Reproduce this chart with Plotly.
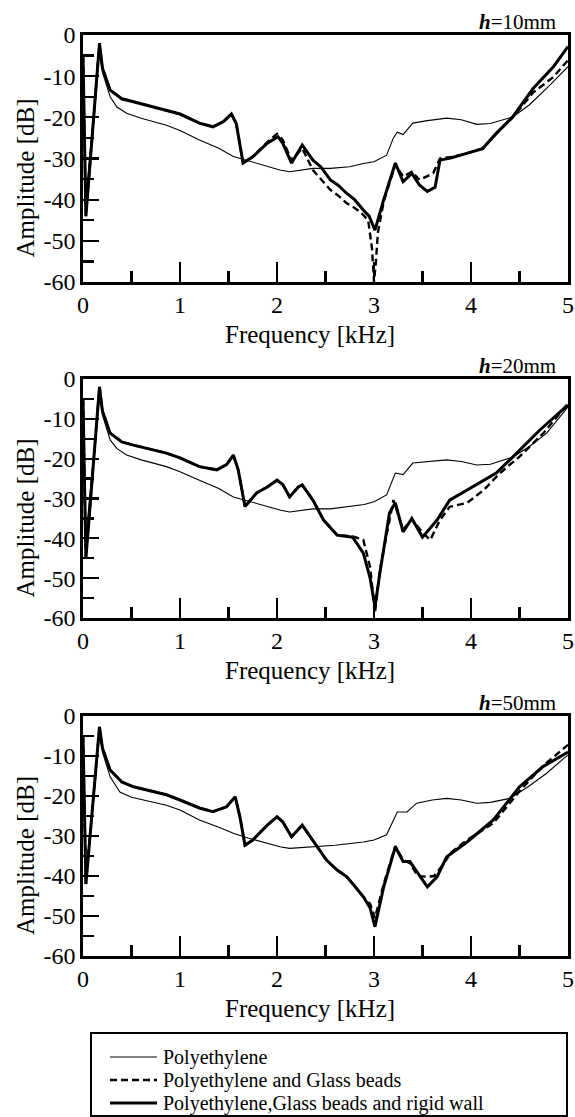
import plotly.graph_objects as go

# ---------------- data ----------------
panel_labels = ["10mm", "20mm", "50mm"]
series_names = ["Polyethylene", "Polyethylene and Glass beads", "Polyethylene,Glass beads and rigid wall"]

# h = 10 mm
f_pe_10 = [0, 0.03, 0.17, 0.2, 0.28, 0.35, 0.45, 0.6, 0.86, 1.0, 1.2, 1.4, 1.55, 1.7, 1.9, 2.03, 2.13, 2.37, 2.55, 2.75, 2.89, 3.0, 3.13, 3.2, 3.24, 3.3, 3.4, 3.55, 3.75, 3.9, 4.06, 4.2, 4.43, 4.6, 4.8, 5.0]
a_pe_10 = [-5, -40, -3, -9, -15, -17.5, -19, -20.2, -21.9, -23.2, -25.5, -27.5, -29.5, -30.5, -32, -32.8, -33.2, -32.4, -32.4, -32, -31.2, -30.8, -29.2, -25, -23.6, -24.2, -21.4, -20.8, -20.2, -20.6, -21.7, -21.5, -19.9, -17, -12.5, -7.7]
f_gb_10 = [0, 0.03, 0.17, 0.2, 0.28, 0.4, 0.52, 0.7, 0.86, 1.0, 1.2, 1.34, 1.45, 1.53, 1.58, 1.65, 1.75, 1.9, 2.0, 2.06, 2.15, 2.26, 2.37, 2.45, 2.55, 2.63, 2.72, 2.8, 2.86, 2.94, 2.98, 3.0, 3.02, 3.04, 3.1, 3.22, 3.3, 3.39, 3.47, 3.61, 3.68, 3.8, 3.92, 4.12, 4.26, 4.43, 4.64, 4.85, 5.0]
a_gb_10 = [-5, -44, -2, -8, -13.4, -15.5, -16.2, -17.3, -18.2, -19.2, -21.4, -22.3, -21, -19.2, -21.5, -31.1, -29.6, -26, -24, -25.5, -30.5, -27.5, -32.8, -35, -37.6, -39, -40.9, -42, -43, -45, -52, -60, -55, -48, -40.5, -31.5, -34.4, -33.2, -35.2, -33.6, -30, -29.6, -29, -27.6, -24, -20, -14, -10.2, -6.1]
f_rw_10 = [0, 0.03, 0.17, 0.2, 0.28, 0.4, 0.52, 0.7, 0.86, 1.0, 1.2, 1.34, 1.45, 1.53, 1.58, 1.65, 1.75, 1.9, 2.01, 2.06, 2.15, 2.26, 2.37, 2.45, 2.55, 2.63, 2.72, 2.8, 2.89, 2.95, 3.01, 3.1, 3.22, 3.3, 3.39, 3.47, 3.55, 3.63, 3.68, 3.8, 3.92, 4.12, 4.26, 4.43, 4.64, 4.85, 5.0]
a_rw_10 = [-5, -44, -2, -8, -13.4, -15.5, -16.2, -17.3, -18.2, -19.2, -21.4, -22.3, -21, -19.2, -21.5, -31.1, -29.6, -26.3, -24.7, -26.3, -31.1, -26.7, -30.4, -32, -35.2, -36.5, -38.5, -40, -42.5, -44, -47.4, -40, -31.1, -35.6, -33.6, -36.5, -38, -37, -30.4, -29.8, -29, -27.6, -23.9, -19.9, -13, -7.7, -2.8]

# h = 20 mm
f_pe_20 = [0, 0.03, 0.17, 0.2, 0.28, 0.35, 0.45, 0.6, 0.86, 1.0, 1.2, 1.4, 1.55, 1.7, 1.9, 2.03, 2.13, 2.37, 2.55, 2.72, 2.9, 3.0, 3.13, 3.22, 3.3, 3.4, 3.55, 3.75, 3.9, 4.06, 4.2, 4.43, 4.6, 4.78, 5.0]
a_pe_20 = [-5, -40, -3, -9, -15.3, -17.5, -19.1, -20.3, -22, -23.3, -25.4, -27.5, -29.6, -30.6, -32.1, -32.9, -33.4, -32.6, -32.6, -32.1, -31.5, -30.8, -29.1, -23.6, -24, -21.1, -20.8, -20.3, -20.7, -21.6, -21.4, -19.6, -17, -13.6, -7]
f_gb_20 = [0, 0.03, 0.17, 0.2, 0.28, 0.4, 0.52, 0.7, 0.86, 1.0, 1.2, 1.38, 1.48, 1.55, 1.6, 1.67, 1.79, 1.9, 2.0, 2.06, 2.13, 2.22, 2.26, 2.37, 2.48, 2.62, 2.78, 2.89, 2.96, 3.01, 3.06, 3.2, 3.3, 3.39, 3.5, 3.58, 3.68, 3.78, 3.96, 4.13, 4.3, 4.5, 4.75, 5.0]
a_gb_20 = [-5, -45, -2, -8, -13.6, -15.8, -16.6, -17.7, -18.6, -19.8, -22, -22.8, -21.5, -19.1, -22.8, -32, -28.6, -27.1, -25.4, -26.5, -29.6, -27.1, -26.6, -30.4, -35.4, -39.2, -39.5, -40.4, -47.2, -58.8, -48, -30.4, -37.8, -35.2, -38.5, -40.4, -35.4, -32.1, -31.1, -27.9, -23.6, -19.5, -13.5, -6.1]
f_rw_20 = [0, 0.03, 0.17, 0.2, 0.28, 0.4, 0.52, 0.7, 0.86, 1.0, 1.2, 1.38, 1.48, 1.55, 1.6, 1.67, 1.79, 1.9, 2.0, 2.06, 2.13, 2.22, 2.26, 2.37, 2.48, 2.62, 2.78, 2.89, 2.96, 3.01, 3.06, 3.16, 3.22, 3.3, 3.39, 3.5, 3.65, 3.78, 3.95, 4.09, 4.26, 4.43, 4.71, 5.0]
a_rw_20 = [-5, -45, -2, -8, -13.6, -15.8, -16.6, -17.7, -18.6, -19.8, -22, -22.8, -21.5, -19.1, -22.8, -32, -28.6, -27.1, -25.4, -26.5, -29.6, -27.1, -26.6, -30.4, -35.4, -39.2, -39.7, -43.7, -50, -57.2, -48.8, -33.6, -31.1, -38.4, -35, -39.7, -35.4, -30.4, -28, -26.1, -23.6, -19.6, -12.8, -6.5]

# h = 50 mm
f_pe_50 = [0, 0.03, 0.17, 0.2, 0.28, 0.38, 0.5, 0.86, 1.0, 1.2, 1.4, 1.55, 1.7, 1.9, 2.03, 2.13, 2.37, 2.6, 2.89, 3.0, 3.13, 3.24, 3.34, 3.44, 3.6, 3.75, 3.9, 4.06, 4.2, 4.4, 4.6, 4.78, 5.0]
a_pe_50 = [-5, -40, -3, -9, -15.2, -19, -20.3, -22.3, -23.5, -26, -27.8, -29.3, -30.5, -31.8, -32.7, -33.1, -32.7, -32.3, -31.5, -31, -29.7, -24, -24, -21.8, -21, -20.6, -21, -21.8, -21.6, -20.6, -17.5, -14.3, -9.7]
f_gb_50 = [0, 0.03, 0.17, 0.2, 0.28, 0.4, 0.52, 0.7, 0.86, 1.0, 1.2, 1.34, 1.48, 1.57, 1.62, 1.67, 1.75, 1.9, 2.0, 2.06, 2.15, 2.26, 2.37, 2.51, 2.62, 2.72, 2.8, 2.89, 2.96, 3.01, 3.1, 3.22, 3.3, 3.37, 3.45, 3.55, 3.62, 3.7, 3.8, 3.96, 4.23, 4.5, 4.74, 5.0]
a_gb_50 = [-5, -42, -2.7, -8, -13.5, -16.5, -17.7, -18.8, -19.7, -21, -23, -23.9, -22.7, -20.2, -25.5, -32.3, -31, -27.3, -25.2, -26.5, -30.2, -27.3, -31, -36, -38.5, -40.2, -42.5, -45.2, -47, -50.5, -42, -32.5, -36, -36.8, -40, -40.2, -40, -37.5, -34, -31, -26.8, -18.8, -12.5, -7.2]
f_rw_50 = [0, 0.03, 0.17, 0.2, 0.28, 0.4, 0.52, 0.7, 0.86, 1.0, 1.2, 1.34, 1.48, 1.57, 1.62, 1.67, 1.75, 1.9, 2.0, 2.06, 2.15, 2.26, 2.37, 2.51, 2.62, 2.72, 2.8, 2.89, 2.96, 3.01, 3.1, 3.22, 3.3, 3.37, 3.45, 3.55, 3.65, 3.75, 3.96, 4.23, 4.5, 4.74, 5.0]
a_rw_50 = [-5, -42, -2.7, -8, -13.5, -16.5, -17.7, -18.8, -19.7, -21, -23, -23.9, -22.7, -20.2, -25.5, -32.3, -31, -27.3, -25.2, -26.5, -30.2, -27.3, -31, -36, -38.5, -40.2, -42.5, -45.2, -48, -52.7, -42.7, -32.7, -36.4, -36.4, -39.2, -42.7, -40.2, -35.2, -31.5, -26, -17.7, -12.7, -9]

x_tick_vals = [0, 1, 2, 3, 4, 5]
x_tick_text = ["0", "1", "2", "3", "4", "5"]
y_tick_vals = [0, -10, -20, -30, -40, -50, -60]
y_tick_text = ["0", "-10", "-20", "-30", "-40", "-50", "-60"]

panels = [
    (f_pe_10, a_pe_10, f_gb_10, a_gb_10, f_rw_10, a_rw_10),
    (f_pe_20, a_pe_20, f_gb_20, a_gb_20, f_rw_20, a_rw_20),
    (f_pe_50, a_pe_50, f_gb_50, a_gb_50, f_rw_50, a_rw_50),
]

# ---------------- layout geometry (pixels) ----------------
W, H = 575, 1117
FONT = "Liberation Serif"
plot_left, plot_right = 83, 568
plot_tops = [35, 379, 716]
plot_bottoms = [282, 618, 956]


def px_x(p):
    return p / W


def px_y(p):
    return 1 - p / H


styles = [
    dict(color="black", width=1.1),
    dict(color="black", width=2.4, dash="7px,4px"),
    dict(color="black", width=3),
]

fig = go.Figure()
for i, data in enumerate(panels):
    xa = "x" if i == 0 else f"x{i+1}"
    ya = "y" if i == 0 else f"y{i+1}"
    for k in range(3):
        fig.add_trace(go.Scatter(
            x=data[2 * k], y=data[2 * k + 1], mode="lines",
            line=styles[k], name=series_names[k], showlegend=False,
            xaxis=xa, yaxis=ya,
        ))

layout = dict(
    template="none",
    width=W, height=H, autosize=False,
    margin=dict(l=0, r=0, t=0, b=0, pad=0),
    paper_bgcolor="white", plot_bgcolor="white",
    font=dict(family=FONT, color="black", size=24),
    showlegend=False,
)

annotations = []
shapes = []
for i in range(3):
    xk = "xaxis" if i == 0 else f"xaxis{i+1}"
    yk = "yaxis" if i == 0 else f"yaxis{i+1}"
    ya = "y" if i == 0 else f"y{i+1}"
    xa = "x" if i == 0 else f"x{i+1}"
    layout[xk] = dict(
        domain=[px_x(plot_left), px_x(plot_right)],
        anchor=ya, range=[0, 5], automargin=False,
        tickmode="array", tickvals=x_tick_vals, ticktext=x_tick_text,
        ticks="inside", ticklen=20, tickwidth=2.2, tickcolor="black",
        minor=dict(dtick=0.5, tick0=0, ticks="inside", ticklen=11, tickwidth=2.2, tickcolor="black"),
        showline=True, linewidth=2.6, linecolor="black", mirror=True,
        showgrid=False, zeroline=False,
        tickfont=dict(family=FONT, size=24, color="black"),
    )
    layout[yk] = dict(
        domain=[px_y(plot_bottoms[i]), px_y(plot_tops[i])],
        anchor=xa, range=[-60, 0], automargin=False,
        tickmode="array", tickvals=y_tick_vals, ticktext=y_tick_text,
        ticks="inside", ticklen=16, tickwidth=2.2, tickcolor="black",
        minor=dict(dtick=5, tick0=0, ticks="inside", ticklen=11, tickwidth=2.2, tickcolor="black"),
        showline=True, linewidth=2.6, linecolor="black", mirror=True,
        showgrid=False, zeroline=False,
        tickfont=dict(family=FONT, size=24, color="black"),
    )
    # panel label
    annotations.append(dict(
        x=px_x(558), y=px_y(plot_tops[i] - 13), xref="paper", yref="paper",
        xanchor="right", yanchor="middle", showarrow=False,
        text=f"<b><i>h</i></b>={panel_labels[i]}",
        font=dict(family=FONT, size=21, color="black"),
    ))
    # x title
    annotations.append(dict(
        x=px_x(310), y=px_y(plot_bottoms[i] + 52), xref="paper", yref="paper",
        xanchor="center", yanchor="middle", showarrow=False,
        text="Frequency [kHz]", font=dict(family=FONT, size=25, color="black"),
    ))
    # y title
    ycen = (plot_tops[i] + plot_bottoms[i]) / 2 + 20
    annotations.append(dict(
        x=px_x(25), y=px_y(ycen), xref="paper", yref="paper",
        xanchor="center", yanchor="middle", showarrow=False, textangle=-90,
        text="Amplitude [dB]", font=dict(family=FONT, size=25, color="black"),
    ))

# legend (drawn box with line samples and labels)
leg_rows = [1057, 1080, 1103]
shapes.append(dict(type="rect", xref="paper", yref="paper",
                   x0=px_x(91), x1=px_x(567), y0=px_y(1116), y1=px_y(1033),
                   line=dict(color="black", width=2), fillcolor="rgba(0,0,0,0)"))
for k in range(3):
    st = styles[k]
    shapes.append(dict(type="line", xref="paper", yref="paper",
                       x0=px_x(110), x1=px_x(157), y0=px_y(leg_rows[k]), y1=px_y(leg_rows[k]),
                       line=dict(color="black", width=st["width"], dash=st.get("dash", "solid"))))
    annotations.append(dict(
        x=px_x(161), y=px_y(leg_rows[k]), xref="paper", yref="paper",
        xanchor="left", yanchor="middle", showarrow=False,
        text=series_names[k], font=dict(family=FONT, size=20, color="black"),
    ))

layout["annotations"] = annotations
layout["shapes"] = shapes
fig.update_layout(**layout)
fig.write_html(
    "out.html",
    config={"displayModeBar": False, "staticPlot": True},
    post_script="document.body.style.margin='0';document.body.style.padding='0';document.body.style.overflow='hidden';",
)
